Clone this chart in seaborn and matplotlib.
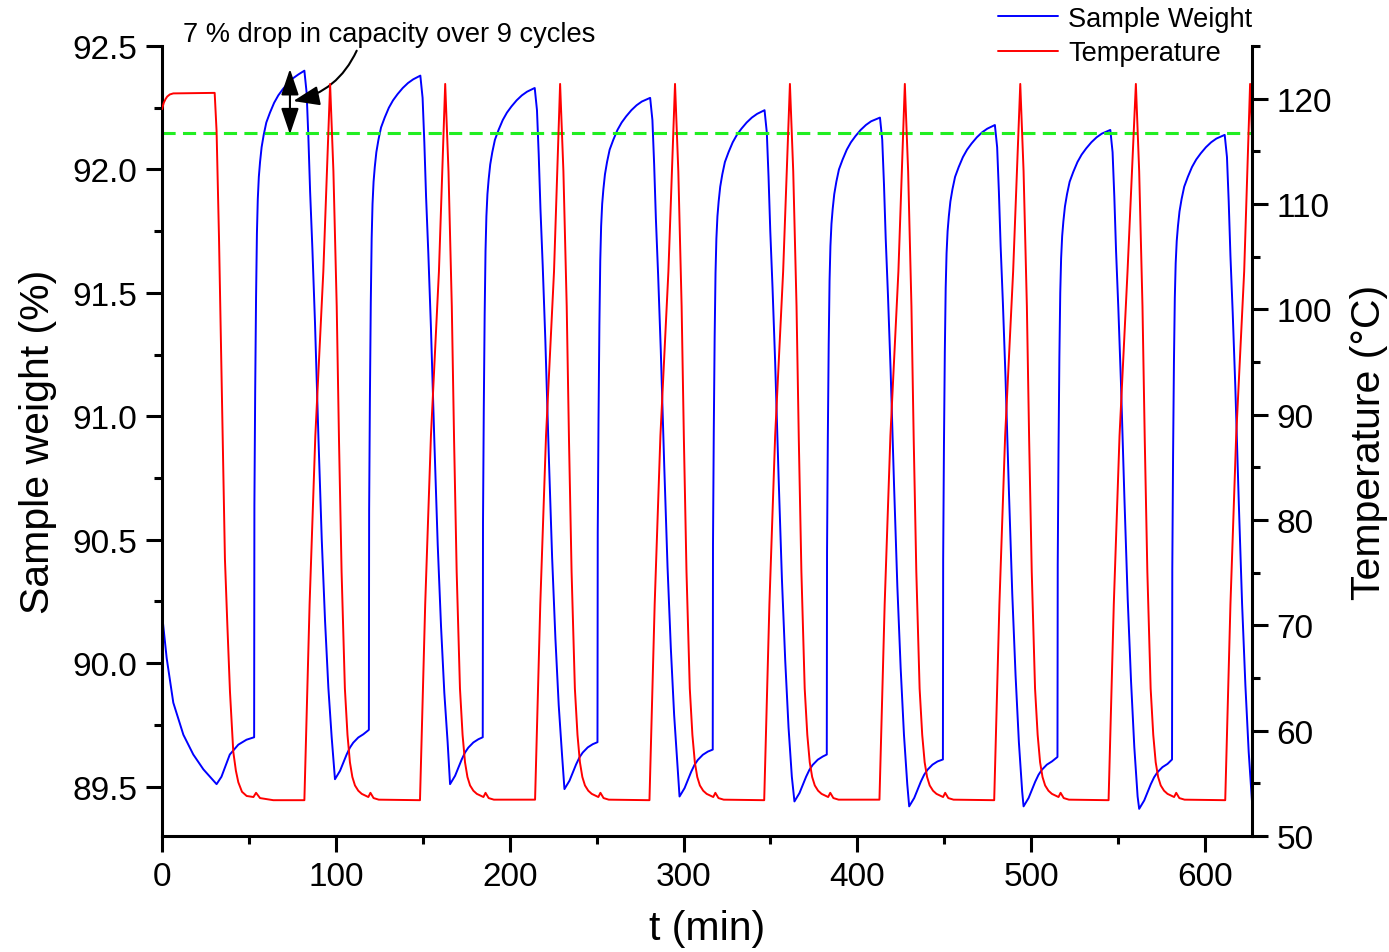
import matplotlib
matplotlib.use("Agg")
import matplotlib.pyplot as plt
import seaborn as sns
import pandas as pd
from matplotlib.ticker import MultipleLocator, FormatStrFormatter

# ---------------- data ----------------
# sample weight (%) : opening stretch before the first uptake step
w_start_t = [0.0, 2.7, 6.5, 12.3, 18.0, 23.8, 31.4, 34.2, 39.0, 43.9, 48.6]
w_start_v = [90.20, 90.02, 89.84, 89.71, 89.63, 89.57, 89.51, 89.54, 89.63, 89.67, 89.69]

# per cycle: uptake step (time, level just before it), peak, minimum
jump_t = [53.0, 119.0, 184.5, 250.5, 316.8, 382.4, 449.2, 515.1, 581.0]
jump_w = [89.70, 89.73, 89.70, 89.68, 89.65, 89.63, 89.61, 89.62, 89.61]
peak_t = [81.9, 148.6, 214.4, 280.8, 346.6, 413.0, 479.1, 545.5, 611.3]
peak_w = [92.40, 92.38, 92.33, 92.29, 92.24, 92.21, 92.18, 92.16, 92.14]
min_t = [99.5, 165.7, 231.5, 297.7, 363.8, 429.8, 495.6, 562.1, 628.3]
min_w = [89.53, 89.51, 89.49, 89.46, 89.44, 89.42, 89.42, 89.41, 89.39]

rise_dt = [0.15, 0.6, 1.1, 1.6, 2.1, 2.7, 3.4, 4.3, 5.5, 7.0, 9.1, 11.5, 13.9, 16.5, 19.5, 22.5, 25.5]
rise_dw = [-1.76, -1.30, -0.92, -0.66, -0.52, -0.43, -0.37, -0.31, -0.26, -0.21, -0.17,
           -0.13, -0.10, -0.075, -0.05, -0.03, -0.015]   # below peak
fall_dt = [1.3, 2.3, 3.3, 4.6, 6.1, 8.1, 10.0, 11.9, 13.8, 15.7]
fall_dw = [-0.09, -0.27, -0.49, -0.72, -1.02, -1.49, -1.90, -2.23, -2.50, -2.70]  # below peak
rec_dt = [2.9, 4.8, 6.7, 8.6, 10.5, 13.4, 16.3]
rec_dw = [0.034, 0.067, 0.10, 0.128, 0.148, 0.169, 0.182]  # above minimum

# temperature (°C) : opening stretch
T_start_t = [0.0, 1.0, 2.0, 3.0, 4.5, 6.5, 30.3, 31.4, 32.8, 36.2, 37.6, 39.1, 41.0, 42.5, 43.9,
             46.0, 48.7, 52.6, 54.1, 56.4, 64.0]
T_start_v = [119.0, 119.6, 119.95, 120.2, 120.4, 120.5, 120.55, 116.9, 106.7, 76.3, 70.0, 63.7,
             58.0, 56.2, 55.1, 54.2, 53.8, 53.7, 54.1, 53.6, 53.4]

# per cycle heating ramps
heat_start_t = [81.9, 148.4, 214.6, 280.4, 346.4, 412.7, 478.7, 544.5, 611.6]
heat_base = [53.4, 53.4, 53.45, 53.4, 53.4, 53.45, 53.4, 53.4, 53.4]
T_peak_t = [96.7, 162.9, 229.0, 295.1, 361.2, 427.3, 493.7, 560.2, 625.9]
T_peak = [121.4, 121.4, 121.4, 121.4, 121.4, 121.4, 121.4, 121.4, 121.4]

heat_dt = [3.0, 6.3, 10.9]
heat_T = [72.0, 88.0, 103.6]
cool_dt = [1.9, 3.8, 5.1, 6.6, 8.5, 10.0, 11.4, 12.8, 14.3, 16.2, 18.2, 22.0, 23.2, 25.0, 28.0]
cool_T = [113.1, 100.3, 87.7, 75.1, 64.0, 59.6, 57.0, 55.6, 54.8, 54.3, 54.0, 53.7, 54.1, 53.6, 53.45]

ref_level = 92.147   # dashed line = last-cycle peak
note_text = "7 % drop in capacity over 9 cycles"

# ---------------- assemble traces ----------------
tw, vw = list(w_start_t), list(w_start_v)
for i in range(len(jump_t)):
    tw.append(jump_t[i]); vw.append(jump_w[i])
    for dt, dw in zip(rise_dt, rise_dw):
        if jump_t[i] + dt < peak_t[i]:
            tw.append(jump_t[i] + dt); vw.append(peak_w[i] + dw)
    tw.append(peak_t[i]); vw.append(peak_w[i])
    for dt, dw in zip(fall_dt, fall_dw):
        tw.append(peak_t[i] + dt); vw.append(peak_w[i] + dw)
    tw.append(min_t[i]); vw.append(min_w[i])
    if i < len(jump_t) - 1:
        for dt, dw in zip(rec_dt, rec_dw):
            tw.append(min_t[i] + dt); vw.append(min_w[i] + dw)
weight = pd.DataFrame({"t": tw, "w": vw})

tT, vT = list(T_start_t), list(T_start_v)
for i in range(len(T_peak_t)):
    tT.append(heat_start_t[i]); vT.append(heat_base[i])
    for dt, T in zip(heat_dt, heat_T):
        tT.append(heat_start_t[i] + dt); vT.append(T)
    tT.append(T_peak_t[i]); vT.append(T_peak[i])
    for dt, T in zip(cool_dt, cool_T):
        tT.append(T_peak_t[i] + dt); vT.append(T)
temp = pd.DataFrame({"t": tT, "T": vT})

# ---------------- plot ----------------
sns.set_style("ticks")
plt.rcParams["font.family"] = ["Liberation Sans", "DejaVu Sans"]
for k in ["text.color", "axes.labelcolor", "xtick.color", "ytick.color", "axes.edgecolor"]:
    plt.rcParams[k] = "black"

fig = plt.figure(figsize=(13.89, 9.53), dpi=100)
ax = fig.add_axes([162 / 1389, 1 - 837 / 953, (1252 - 162) / 1389, (837 - 47) / 953])
ax2 = ax.twinx()

sns.lineplot(data=weight, x="t", y="w", ax=ax, color="blue", lw=1.4,
             sort=False, estimator=None)
h_w = ax.lines[-1]
ax.axhline(ref_level, color="#22ee22", lw=2.2, dashes=(4.3, 2.4))
sns.lineplot(data=temp, x="t", y="T", ax=ax2, color="red", lw=1.4,
             sort=False, estimator=None)
h_T = ax2.lines[-1]

ax.set_xlim(0, 627)
ax.set_ylim(89.3, 92.5)
ax2.set_ylim(50, 125)

ax.xaxis.set_major_locator(MultipleLocator(100))
ax.xaxis.set_minor_locator(MultipleLocator(50))
ax.yaxis.set_major_locator(MultipleLocator(0.5))
ax.yaxis.set_minor_locator(MultipleLocator(0.25))
ax.yaxis.set_major_formatter(FormatStrFormatter("%.1f"))
ax2.yaxis.set_major_locator(MultipleLocator(10))
ax2.yaxis.set_minor_locator(MultipleLocator(5))

for a in (ax, ax2):
    a.tick_params(which="major", direction="out", length=11.3, width=2.2, labelsize=24, pad=6.5)
    a.tick_params(which="minor", direction="out", length=5.5, width=2.2)
    a.spines["top"].set_visible(False)
    for s in a.spines.values():
        s.set_linewidth(2.2)
        s.set_color("black")
ax.spines["right"].set_visible(False)
ax2.spines["left"].set_visible(False)
ax2.spines["bottom"].set_visible(False)
ax.tick_params(axis="x", pad=7)

ax.set_xlabel("t (min)", fontsize=29.5, labelpad=12)
ax.set_ylabel("Sample weight (%)", fontsize=29.5, labelpad=11)
ax2.set_ylabel("Temperature (°C)", fontsize=29.5, labelpad=13)

# annotation
ax.text(130.6, 92.55, note_text, fontsize=19.6, ha="center", va="center", clip_on=False)
ax.annotate("", xy=(75.5, 92.277), xytext=(112.0, 92.481), annotation_clip=False,
            arrowprops=dict(arrowstyle="-|>,head_length=0.8,head_width=0.3",
                            connectionstyle="arc3,rad=-0.25", color="black", lw=1.5,
                            shrinkA=0, shrinkB=0, mutation_scale=20))
ax.annotate("", xy=(73.6, 92.407), xytext=(73.6, 92.142), annotation_clip=False,
            arrowprops=dict(arrowstyle="<|-|>,head_length=0.8,head_width=0.27",
                            color="black", lw=1.5, shrinkA=0, shrinkB=0, mutation_scale=20))

fig.legend([h_w, h_T], ["Sample Weight", "Temperature"], loc="upper left",
           bbox_to_anchor=(998 / 1389, 1 - 7 / 953), frameon=False, fontsize=19.6,
           borderpad=0, borderaxespad=0, handlelength=2.2, handletextpad=0.37,
           labelspacing=0.3)

fig.savefig("out.png", dpi=100)
